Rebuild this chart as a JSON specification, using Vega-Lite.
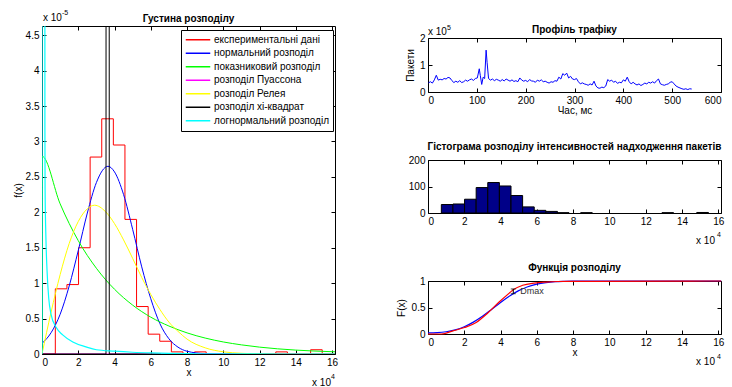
{
  "$schema": "https://vega.github.io/schema/vega-lite/v6.json",
  "padding": {"left": 12, "top": 8, "right": 0, "bottom": 0},
  "config": {
    "font": "Liberation Sans",
    "view": {"stroke": "black", "strokeWidth": 1},
    "axis": {"domain": false, "grid": false, "tickColor": "black", "tickSize": -4, "tickWidth": 1, "labelPadding": 7, "labelFontSize": 10, "labelColor": "black", "labelFont": "Liberation Sans", "titleFont": "Liberation Sans", "titleFontSize": 10, "titleFontWeight": "normal", "titleColor": "black", "titlePadding": 2},
    "axisX": {"titlePadding": 0},
    "title": {"fontSize": 10, "fontWeight": "bold", "color": "black", "font": "Liberation Sans", "frame": "group"},
    "text": {"font": "Liberation Sans"}
  },
  "datasets": {
    "experimental": [
      {"x": 0, "y": 0}, {"x": 0.735, "y": 0.92}, {"x": 1.375, "y": 0.98}, {"x": 2.015, "y": 1.5}, {"x": 2.655, "y": 2.78}, {"x": 3.295, "y": 3.32}, {"x": 3.935, "y": 2.95}, {"x": 4.575, "y": 1.9}, {"x": 5.215, "y": 0.67}, {"x": 5.855, "y": 0.28}, {"x": 6.495, "y": 0.18}, {"x": 7.135, "y": 0.03}, {"x": 7.775, "y": 0}, {"x": 8.415, "y": 0.03}, {"x": 9.055, "y": 0}, {"x": 12.895, "y": 0.03}, {"x": 13.535, "y": 0}, {"x": 14.815, "y": 0.06}, {"x": 15.455, "y": 0}, {"x": 16.16, "y": 0}
    ],
    "normal": [
      {"x": 0, "y": 0.15}, {"x": 0.5, "y": 0.3}, {"x": 1, "y": 0.56}, {"x": 1.5, "y": 0.96}, {"x": 2, "y": 1.46}, {"x": 2.5, "y": 1.99}, {"x": 3, "y": 2.42}, {"x": 3.64, "y": 2.65}, {"x": 4, "y": 2.57}, {"x": 4.5, "y": 2.25}, {"x": 5, "y": 1.76}, {"x": 5.5, "y": 1.23}, {"x": 6, "y": 0.78}, {"x": 6.5, "y": 0.43}, {"x": 7, "y": 0.215}, {"x": 7.5, "y": 0.097}, {"x": 8, "y": 0.039}, {"x": 9, "y": 0.005}, {"x": 10, "y": 0}, {"x": 16.16, "y": 0}
    ],
    "exponential": [
      {"x": 0, "y": 0}, {"x": 0.01, "y": 2.79}, {"x": 1, "y": 2.12}, {"x": 2, "y": 1.6}, {"x": 3, "y": 1.21}, {"x": 4, "y": 0.914}, {"x": 5, "y": 0.69}, {"x": 6, "y": 0.52}, {"x": 7, "y": 0.395}, {"x": 8, "y": 0.298}, {"x": 9, "y": 0.225}, {"x": 10, "y": 0.17}, {"x": 11, "y": 0.129}, {"x": 12, "y": 0.097}, {"x": 13, "y": 0.073}, {"x": 14, "y": 0.055}, {"x": 15, "y": 0.042}, {"x": 16.16, "y": 0.031}
    ],
    "poisson": [
      {"x": 0, "y": 0}, {"x": 16.16, "y": 0}
    ],
    "rayleigh": [
      {"x": 0, "y": 0}, {"x": 0.5, "y": 0.59}, {"x": 1, "y": 1.12}, {"x": 1.5, "y": 1.56}, {"x": 2, "y": 1.87}, {"x": 2.5, "y": 2.05}, {"x": 2.9, "y": 2.1}, {"x": 3.5, "y": 2.01}, {"x": 4, "y": 1.84}, {"x": 4.5, "y": 1.61}, {"x": 5, "y": 1.35}, {"x": 5.5, "y": 1.08}, {"x": 6, "y": 0.84}, {"x": 6.5, "y": 0.63}, {"x": 7, "y": 0.45}, {"x": 7.5, "y": 0.32}, {"x": 8, "y": 0.21}, {"x": 9, "y": 0.087}, {"x": 10, "y": 0.031}, {"x": 11, "y": 0.01}, {"x": 12, "y": 0.003}, {"x": 13, "y": 0}, {"x": 16.16, "y": 0}
    ],
    "chisquare": [
      {"x": 0, "y": 0}, {"x": 3.53, "y": 0}, {"x": 3.545, "y": 30}, {"x": 3.62, "y": 100}, {"x": 3.695, "y": 30}, {"x": 3.71, "y": 0}, {"x": 6.56, "y": 0}
    ],
    "lognormal": [
      {"x": 0, "y": 0}, {"x": 0.01, "y": 40}, {"x": 0.13, "y": 40}, {"x": 0.16, "y": 3.2}, {"x": 0.17, "y": 2.33}, {"x": 0.22, "y": 1.6}, {"x": 0.28, "y": 1.17}, {"x": 0.37, "y": 0.79}, {"x": 0.5, "y": 0.56}, {"x": 0.77, "y": 0.38}, {"x": 1.14, "y": 0.27}, {"x": 1.7, "y": 0.17}, {"x": 2.43, "y": 0.1}, {"x": 3, "y": 0.06}, {"x": 4, "y": 0.04}, {"x": 5, "y": 0.025}, {"x": 6, "y": 0.015}, {"x": 7, "y": 0.008}, {"x": 8, "y": 0.004}, {"x": 10, "y": 0.001}, {"x": 16.16, "y": 0}
    ],
    "traffic": [
      {"t": 1, "p": 0.34}, {"t": 5, "p": 0.38}, {"t": 9, "p": 0.33}, {"t": 13, "p": 0.45}, {"t": 17, "p": 0.62}, {"t": 21, "p": 0.44}, {"t": 25, "p": 0.47}, {"t": 29, "p": 0.45}, {"t": 33, "p": 0.5}, {"t": 37, "p": 0.48}, {"t": 41, "p": 0.54}, {"t": 45, "p": 0.52}, {"t": 49, "p": 0.42}, {"t": 53, "p": 0.35}, {"t": 57, "p": 0.4}, {"t": 61, "p": 0.36}, {"t": 65, "p": 0.42}, {"t": 69, "p": 0.35}, {"t": 73, "p": 0.38}, {"t": 77, "p": 0.44}, {"t": 81, "p": 0.4}, {"t": 85, "p": 0.45}, {"t": 89, "p": 0.48}, {"t": 93, "p": 0.43}, {"t": 97, "p": 0.5}, {"t": 101, "p": 0.52}, {"t": 105, "p": 0.86}, {"t": 107, "p": 0.62}, {"t": 110, "p": 0.28}, {"t": 113, "p": 0.55}, {"t": 116, "p": 0.5}, {"t": 119, "p": 1.55}, {"t": 121, "p": 1.1}, {"t": 124, "p": 0.5}, {"t": 128, "p": 0.44}, {"t": 132, "p": 0.48}, {"t": 136, "p": 0.42}, {"t": 140, "p": 0.47}, {"t": 144, "p": 0.44}, {"t": 148, "p": 0.4}, {"t": 152, "p": 0.46}, {"t": 156, "p": 0.41}, {"t": 160, "p": 0.48}, {"t": 164, "p": 0.44}, {"t": 168, "p": 0.4}, {"t": 172, "p": 0.45}, {"t": 176, "p": 0.39}, {"t": 180, "p": 0.42}, {"t": 184, "p": 0.38}, {"t": 188, "p": 0.52}, {"t": 192, "p": 0.44}, {"t": 196, "p": 0.4}, {"t": 200, "p": 0.43}, {"t": 204, "p": 0.38}, {"t": 208, "p": 0.46}, {"t": 212, "p": 0.41}, {"t": 216, "p": 0.4}, {"t": 220, "p": 0.36}, {"t": 224, "p": 0.44}, {"t": 228, "p": 0.4}, {"t": 232, "p": 0.45}, {"t": 236, "p": 0.38}, {"t": 240, "p": 0.4}, {"t": 244, "p": 0.36}, {"t": 248, "p": 0.33}, {"t": 252, "p": 0.38}, {"t": 256, "p": 0.36}, {"t": 260, "p": 0.42}, {"t": 264, "p": 0.4}, {"t": 268, "p": 0.55}, {"t": 272, "p": 0.48}, {"t": 276, "p": 0.68}, {"t": 280, "p": 0.62}, {"t": 284, "p": 0.7}, {"t": 288, "p": 0.52}, {"t": 292, "p": 0.58}, {"t": 296, "p": 0.48}, {"t": 300, "p": 0.46}, {"t": 304, "p": 0.5}, {"t": 308, "p": 0.38}, {"t": 312, "p": 0.3}, {"t": 316, "p": 0.34}, {"t": 320, "p": 0.3}, {"t": 324, "p": 0.28}, {"t": 328, "p": 0.25}, {"t": 332, "p": 0.3}, {"t": 336, "p": 0.26}, {"t": 340, "p": 0.4}, {"t": 344, "p": 0.22}, {"t": 348, "p": 0.15}, {"t": 352, "p": 0.14}, {"t": 356, "p": 0.18}, {"t": 360, "p": 0.16}, {"t": 364, "p": 0.22}, {"t": 368, "p": 0.46}, {"t": 372, "p": 0.4}, {"t": 376, "p": 0.44}, {"t": 380, "p": 0.36}, {"t": 384, "p": 0.4}, {"t": 388, "p": 0.32}, {"t": 392, "p": 0.36}, {"t": 396, "p": 0.34}, {"t": 400, "p": 0.45}, {"t": 404, "p": 0.4}, {"t": 408, "p": 0.55}, {"t": 412, "p": 0.38}, {"t": 416, "p": 0.3}, {"t": 420, "p": 0.36}, {"t": 424, "p": 0.3}, {"t": 428, "p": 0.26}, {"t": 432, "p": 0.3}, {"t": 436, "p": 0.24}, {"t": 440, "p": 0.28}, {"t": 444, "p": 0.33}, {"t": 448, "p": 0.3}, {"t": 452, "p": 0.36}, {"t": 456, "p": 0.33}, {"t": 460, "p": 0.38}, {"t": 464, "p": 0.33}, {"t": 468, "p": 0.42}, {"t": 472, "p": 0.48}, {"t": 476, "p": 0.3}, {"t": 480, "p": 0.27}, {"t": 484, "p": 0.25}, {"t": 488, "p": 0.28}, {"t": 492, "p": 0.3}, {"t": 496, "p": 0.36}, {"t": 500, "p": 0.38}, {"t": 504, "p": 0.3}, {"t": 508, "p": 0.22}, {"t": 512, "p": 0.18}, {"t": 516, "p": 0.15}, {"t": 520, "p": 0.12}, {"t": 524, "p": 0.1}, {"t": 528, "p": 0.12}, {"t": 532, "p": 0.09}, {"t": 536, "p": 0.12}, {"t": 540, "p": 0.11}
    ],
    "hist": [
      {"start": 0.735, "end": 1.375, "count": 32}, {"start": 1.375, "end": 2.015, "count": 34}, {"start": 2.015, "end": 2.655, "count": 52}, {"start": 2.655, "end": 3.295, "count": 96}, {"start": 3.295, "end": 3.935, "count": 115}, {"start": 3.935, "end": 4.575, "count": 102}, {"start": 4.575, "end": 5.215, "count": 66}, {"start": 5.215, "end": 5.855, "count": 23}, {"start": 5.855, "end": 6.495, "count": 10}, {"start": 6.495, "end": 7.135, "count": 6}, {"start": 7.135, "end": 7.775, "count": 1}, {"start": 8.415, "end": 9.055, "count": 1}, {"start": 12.895, "end": 13.535, "count": 1}, {"start": 14.815, "end": 15.455, "count": 2}
    ],
    "cdf": [
      {"curve": "theory", "x": 0, "F": 0.02}, {"curve": "theory", "x": 0.5, "F": 0.025}, {"curve": "theory", "x": 1, "F": 0.042}, {"curve": "theory", "x": 1.5, "F": 0.078}, {"curve": "theory", "x": 2, "F": 0.137}, {"curve": "theory", "x": 2.5, "F": 0.224}, {"curve": "theory", "x": 3, "F": 0.335}, {"curve": "theory", "x": 3.5, "F": 0.463}, {"curve": "theory", "x": 4, "F": 0.595}, {"curve": "theory", "x": 4.5, "F": 0.716}, {"curve": "theory", "x": 5, "F": 0.818}, {"curve": "theory", "x": 5.5, "F": 0.892}, {"curve": "theory", "x": 6, "F": 0.942}, {"curve": "theory", "x": 6.5, "F": 0.971}, {"curve": "theory", "x": 7, "F": 0.988}, {"curve": "theory", "x": 7.5, "F": 0.995}, {"curve": "theory", "x": 8, "F": 0.998}, {"curve": "theory", "x": 9, "F": 1}, {"curve": "theory", "x": 16.16, "F": 1},
      {"curve": "empirical", "x": 0, "F": 0}, {"curve": "empirical", "x": 0.735, "F": 0}, {"curve": "empirical", "x": 1.375, "F": 0.059}, {"curve": "empirical", "x": 2.015, "F": 0.122}, {"curve": "empirical", "x": 2.655, "F": 0.218}, {"curve": "empirical", "x": 3.295, "F": 0.396}, {"curve": "empirical", "x": 3.935, "F": 0.608}, {"curve": "empirical", "x": 4.575, "F": 0.8}, {"curve": "empirical", "x": 4.7, "F": 0.835}, {"curve": "empirical", "x": 5.215, "F": 0.919}, {"curve": "empirical", "x": 5.855, "F": 0.961}, {"curve": "empirical", "x": 6.495, "F": 0.98}, {"curve": "empirical", "x": 7.135, "F": 0.991}, {"curve": "empirical", "x": 7.775, "F": 0.993}, {"curve": "empirical", "x": 9.055, "F": 0.994}, {"curve": "empirical", "x": 13.535, "F": 0.996}, {"curve": "empirical", "x": 15.455, "F": 1}, {"curve": "empirical", "x": 16.16, "F": 1}
    ],
    "dmax": [
      {"x": 4.7, "lo": 0.76, "hi": 0.85, "mid": 0.81, "label": "Dmax"}
    ]
  },
  "hconcat": [
    {
      "width": 293,
      "height": 328,
      "title": {"text": "Густина розподілу", "offset": -15},
      "resolve": {"axis": {"x": "independent", "y": "independent"}},
      "layer": [
        {
          "layer": [
            {
              "data": {"name": "experimental"},
              "mark": {"type": "line", "interpolate": "step-after", "strokeWidth": 1, "clip": true},
              "encoding": {
                "x": {"field": "x", "type": "quantitative", "scale": {"domain": [0, 16.16], "nice": false, "zero": false}, "axis": {"tickCount": 9, "title": "x", "labelOverlap": false}},
                "y": {"field": "y", "type": "quantitative", "scale": {"domain": [0, 4.63], "nice": false, "zero": false}, "axis": {"tickCount": 10, "format": "~g", "title": "f(x)", "titlePadding": 2, "labelOverlap": false}},
                "color": {
                  "datum": "експериментальні дані", "type": "nominal",
                  "scale": {
                    "domain": ["експериментальні дані", "нормальний розподіл", "показниковий розподіл", "розподіл Пуассона", "розподіл Релея", "розподіл хі-квадрат", "логнормальний розподіл"],
                    "range": ["#ff0000", "#0000ff", "#00ff00", "#ff00ff", "#ffff00", "#000000", "#00ffff"]
                  },
                  "legend": {"title": null, "orient": "none", "legendX": 139, "legendY": 4, "symbolType": "stroke", "symbolSize": 600, "symbolStrokeWidth": 1.5, "fillColor": "white", "strokeColor": "black", "padding": 4, "labelFontSize": 10, "labelFont": "Liberation Sans", "labelColor": "black", "labelOffset": 3, "clipHeight": 11.4, "rowPadding": 1.5}
                }
              }
            },
            {
              "data": {"name": "normal"},
              "mark": {"type": "line", "interpolate": "monotone", "strokeWidth": 1, "clip": true},
              "encoding": {"x": {"field": "x", "type": "quantitative"}, "y": {"field": "y", "type": "quantitative"}, "color": {"datum": "нормальний розподіл"}}
            },
            {
              "data": {"name": "exponential"},
              "mark": {"type": "line", "interpolate": "monotone", "strokeWidth": 1, "clip": true},
              "encoding": {"x": {"field": "x", "type": "quantitative"}, "y": {"field": "y", "type": "quantitative"}, "color": {"datum": "показниковий розподіл"}}
            },
            {
              "data": {"name": "poisson"},
              "mark": {"type": "line", "strokeWidth": 1, "clip": true},
              "encoding": {"x": {"field": "x", "type": "quantitative"}, "y": {"field": "y", "type": "quantitative"}, "color": {"datum": "розподіл Пуассона"}}
            },
            {
              "data": {"name": "rayleigh"},
              "mark": {"type": "line", "interpolate": "monotone", "strokeWidth": 1, "clip": true},
              "encoding": {"x": {"field": "x", "type": "quantitative"}, "y": {"field": "y", "type": "quantitative"}, "color": {"datum": "розподіл Релея"}}
            },
            {
              "data": {"name": "chisquare"},
              "mark": {"type": "line", "strokeWidth": 1, "clip": true},
              "encoding": {"x": {"field": "x", "type": "quantitative"}, "y": {"field": "y", "type": "quantitative"}, "color": {"datum": "розподіл хі-квадрат"}}
            },
            {
              "data": {"name": "lognormal"},
              "mark": {"type": "line", "interpolate": "monotone", "strokeWidth": 1.2, "clip": true},
              "encoding": {"x": {"field": "x", "type": "quantitative"}, "y": {"field": "y", "type": "quantitative"}, "color": {"datum": "логнормальний розподіл"}}
            },
            {
              "data": {"values": [{"label": "x 10"}]},
              "mark": {"type": "text", "align": "left", "baseline": "alphabetic", "dy": -5, "dx": 1, "fontSize": 10, "color": "black"},
              "encoding": {"x": {"datum": 0}, "y": {"datum": 4.63}, "text": {"field": "label"}}
            },
            {
              "data": {"values": [{"label": "-5"}]},
              "mark": {"type": "text", "align": "left", "baseline": "alphabetic", "dy": -11, "dx": 20, "fontSize": 7, "color": "black"},
              "encoding": {"x": {"datum": 0}, "y": {"datum": 4.63}, "text": {"field": "label"}}
            },
            {
              "data": {"values": [{"label": "x 10"}]},
              "mark": {"type": "text", "align": "right", "baseline": "alphabetic", "dy": 32, "dx": -4, "fontSize": 10, "color": "black"},
              "encoding": {"x": {"datum": 16.16}, "y": {"datum": 0}, "text": {"field": "label"}}
            },
            {
              "data": {"values": [{"label": "4"}]},
              "mark": {"type": "text", "align": "right", "baseline": "alphabetic", "dy": 25, "dx": 0, "fontSize": 7, "color": "black"},
              "encoding": {"x": {"datum": 16.16}, "y": {"datum": 0}, "text": {"field": "label"}}
            }
          ]
        },
        {
          "data": {"values": [{"label": ""}]},
          "mark": {"type": "text"},
          "encoding": {
            "x": {"datum": 0, "type": "quantitative", "axis": {"orient": "top", "labels": false, "title": null, "tickCount": 9}},
            "y": {"datum": 0, "type": "quantitative", "axis": {"orient": "right", "labels": false, "title": null, "tickCount": 10}},
            "text": {"field": "label"}
          }
        }
      ]
    },
    {
      "bounds": "flush",
      "spacing": 11,
      "vconcat": [
        {
          "width": 293,
          "height": 1,
          "view": {"stroke": null},
          "data": {"values": []},
          "mark": "point"
        },
        {
          "bounds": "flush",
          "spacing": 68,
          "vconcat": [
            {
              "width": 293,
              "height": 54,
              "title": {"text": "Профіль трафіку", "offset": -11},
              "resolve": {"axis": {"x": "independent", "y": "independent"}},
              "layer": [
                {
                  "layer": [
                    {
                      "data": {"name": "traffic"},
                      "mark": {"type": "line", "color": "#0000ff", "strokeWidth": 1},
                      "encoding": {
                        "x": {"field": "t", "type": "quantitative", "scale": {"domain": [0, 600], "nice": false}, "axis": {"tickCount": 6, "title": "Час, мс", "labelOverlap": false}},
                        "y": {"field": "p", "type": "quantitative", "scale": {"domain": [0, 2], "nice": false}, "axis": {"tickCount": 2, "title": "Пакети", "titlePadding": 4, "labelOverlap": false}}
                      }
                    },
                    {
                      "data": {"values": [{"label": "x 10"}]},
                      "mark": {"type": "text", "align": "left", "baseline": "alphabetic", "dy": -3, "dx": 0, "fontSize": 10, "color": "black"},
                      "encoding": {"x": {"datum": 0}, "y": {"datum": 2}, "text": {"field": "label"}}
                    },
                    {
                      "data": {"values": [{"label": "5"}]},
                      "mark": {"type": "text", "align": "left", "baseline": "alphabetic", "dy": -8.5, "dx": 19, "fontSize": 7, "color": "black"},
                      "encoding": {"x": {"datum": 0}, "y": {"datum": 2}, "text": {"field": "label"}}
                    }
                  ]
                },
                {
                  "data": {"values": [{"label": ""}]},
                  "mark": {"type": "text"},
                  "encoding": {
                    "x": {"datum": 0, "type": "quantitative", "axis": {"orient": "top", "labels": false, "title": null, "tickCount": 6}},
                    "y": {"datum": 0, "type": "quantitative", "axis": {"orient": "right", "labels": false, "title": null, "tickCount": 2}},
                    "text": {"field": "label"}
                  }
                }
              ]
            },
            {
              "width": 293,
              "height": 53,
              "title": {"text": "Гістограма розподілу інтенсивностей надходження пакетів", "offset": 3},
              "resolve": {"axis": {"x": "independent", "y": "independent"}},
              "layer": [
                {
                  "layer": [
                    {
                      "data": {"name": "hist"},
                      "mark": {"type": "bar", "fill": "#000088", "stroke": "black", "strokeWidth": 1},
                      "encoding": {
                        "x": {"field": "start", "type": "quantitative", "scale": {"domain": [0, 16.15], "nice": false, "zero": false}, "axis": {"tickCount": 9, "title": null, "labelOverlap": false}},
                        "x2": {"field": "end"},
                        "y": {"field": "count", "type": "quantitative", "scale": {"domain": [0, 200], "nice": false}, "axis": {"tickCount": 2, "title": null, "labelOverlap": false}},
                        "y2": {"datum": 0}
                      }
                    },
                    {
                      "data": {"values": [{"label": "x 10"}]},
                      "mark": {"type": "text", "align": "right", "baseline": "alphabetic", "dy": 30.5, "dx": -6, "fontSize": 10, "color": "black"},
                      "encoding": {"x": {"datum": 16.15}, "y": {"datum": 0}, "text": {"field": "label"}}
                    },
                    {
                      "data": {"values": [{"label": "4"}]},
                      "mark": {"type": "text", "align": "right", "baseline": "alphabetic", "dy": 24, "dx": 0, "fontSize": 7, "color": "black"},
                      "encoding": {"x": {"datum": 16.15}, "y": {"datum": 0}, "text": {"field": "label"}}
                    }
                  ]
                },
                {
                  "data": {"values": [{"label": ""}]},
                  "mark": {"type": "text"},
                  "encoding": {
                    "x": {"datum": 0, "type": "quantitative", "axis": {"orient": "top", "labels": false, "title": null, "tickCount": 9}},
                    "y": {"datum": 0, "type": "quantitative", "axis": {"orient": "right", "labels": false, "title": null, "tickCount": 2}},
                    "text": {"field": "label"}
                  }
                }
              ]
            },
            {
              "width": 293,
              "height": 53,
              "title": {"text": "Функція розподілу", "offset": 3},
              "resolve": {"axis": {"x": "independent", "y": "independent"}},
              "layer": [
                {
                  "layer": [
                    {
                      "data": {"name": "cdf"},
                      "mark": {"type": "line", "interpolate": "monotone", "strokeWidth": 1.2},
                      "encoding": {
                        "x": {"field": "x", "type": "quantitative", "scale": {"domain": [0, 16.15], "nice": false, "zero": false}, "axis": {"tickCount": 9, "title": "x", "labelOverlap": false}},
                        "y": {"field": "F", "type": "quantitative", "scale": {"domain": [0, 1], "nice": false}, "axis": {"tickCount": 2, "format": "~g", "title": "F(x)", "titlePadding": 5, "labelOverlap": false}},
                        "color": {"field": "curve", "type": "nominal", "scale": {"domain": ["theory", "empirical"], "range": ["#0000ff", "#ff0000"]}, "legend": null}
                      }
                    },
                    {
                      "data": {"name": "dmax"},
                      "mark": {"type": "rule", "color": "black", "strokeWidth": 1},
                      "encoding": {"x": {"field": "x", "type": "quantitative"}, "y": {"field": "lo", "type": "quantitative"}, "y2": {"field": "hi"}}
                    },
                    {
                      "data": {"name": "dmax"},
                      "mark": {"type": "tick", "orient": "horizontal", "color": "black", "size": 5, "thickness": 1},
                      "encoding": {"x": {"field": "x", "type": "quantitative"}, "y": {"field": "lo", "type": "quantitative"}}
                    },
                    {
                      "data": {"name": "dmax"},
                      "mark": {"type": "tick", "orient": "horizontal", "color": "black", "size": 5, "thickness": 1},
                      "encoding": {"x": {"field": "x", "type": "quantitative"}, "y": {"field": "hi", "type": "quantitative"}}
                    },
                    {
                      "data": {"name": "dmax"},
                      "mark": {"type": "text", "align": "left", "baseline": "middle", "dx": 7, "fontSize": 9, "color": "#333333"},
                      "encoding": {"x": {"field": "x", "type": "quantitative"}, "y": {"field": "mid", "type": "quantitative"}, "text": {"field": "label"}}
                    },
                    {
                      "data": {"values": [{"label": "x 10"}]},
                      "mark": {"type": "text", "align": "right", "baseline": "alphabetic", "dy": 30.5, "dx": -6, "fontSize": 10, "color": "black"},
                      "encoding": {"x": {"datum": 16.15}, "y": {"datum": 0}, "text": {"field": "label"}}
                    },
                    {
                      "data": {"values": [{"label": "4"}]},
                      "mark": {"type": "text", "align": "right", "baseline": "alphabetic", "dy": 24.5, "dx": 0, "fontSize": 7, "color": "black"},
                      "encoding": {"x": {"datum": 16.15}, "y": {"datum": 0}, "text": {"field": "label"}}
                    }
                  ]
                },
                {
                  "data": {"values": [{"label": ""}]},
                  "mark": {"type": "text"},
                  "encoding": {
                    "x": {"datum": 0, "type": "quantitative", "axis": {"orient": "top", "labels": false, "title": null, "tickCount": 9}},
                    "y": {"datum": 0, "type": "quantitative", "axis": {"orient": "right", "labels": false, "title": null, "tickCount": 2}},
                    "text": {"field": "label"}
                  }
                }
              ]
            }
          ]
        }
      ]
    }
  ],
  "spacing": 93,
  "bounds": "flush",
  "resolve": {"scale": {"x": "independent", "y": "independent", "color": "independent"}}
}
